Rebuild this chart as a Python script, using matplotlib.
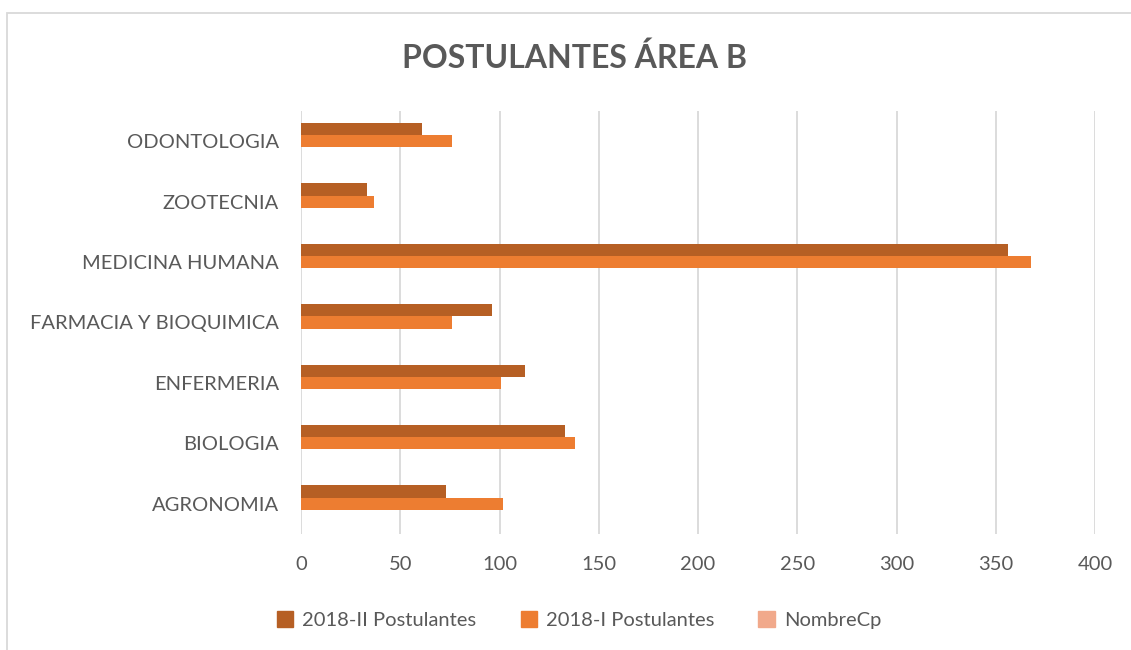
import matplotlib
matplotlib.use("Agg")
import matplotlib.pyplot as plt
from matplotlib.patches import Patch, Rectangle
import numpy as np

categories = ["AGRONOMIA", "BIOLOGIA", "ENFERMERIA", "FARMACIA Y BIOQUIMICA",
              "MEDICINA HUMANA", "ZOOTECNIA", "ODONTOLOGIA"]
s2018_II = [73, 133, 113, 96, 356, 33, 61]
s2018_I = [102, 138, 101, 76, 368, 37, 76]
nombre_cp = [0, 0, 0, 0, 0, 0, 0]
series_names = ["2018-II Postulantes", "2018-I Postulantes", "NombreCp"]
xticks = [0, 50, 100, 150, 200, 250, 300, 350, 400]

c_II = "#B65F24"
c_I = "#ED7D31"
c_N = "#F1A98B"
gray = "#595959"
FONT = "Lato"

plt.rcParams['font.family'] = [FONT, 'DejaVu Sans']

fig = plt.figure(figsize=(11.31, 6.5), dpi=100)
ax = fig.add_axes([301/1131, 1-534/650, 794/1131, 423/650])

y = np.arange(len(categories))
h = 0.203
ax.barh(y + h, s2018_II, height=h, color=c_II, zorder=3)
ax.barh(y, s2018_I, height=h, color=c_I, zorder=3)
ax.barh(y - h, nombre_cp, height=h, color=c_N, zorder=3)

ax.set_xlim(0, 400)
ax.set_ylim(-0.5, len(categories) - 0.5)
ax.set_xticks(xticks)
ax.set_xticklabels([str(t) for t in xticks])
ax.set_yticks(y)
ax.set_yticklabels(categories)
ax.tick_params(axis='both', length=0, colors=gray, labelsize=14.5)
ax.tick_params(axis='x', pad=16)
ax.tick_params(axis='y', pad=16)
ax.grid(axis='x', color="#D9D9D9", linewidth=1.3, zorder=0)
for s in ax.spines.values():
    s.set_visible(False)

fig.text(575/1131, 1-58/650, "POSTULANTES ÁREA B", ha='center', va='center',
         fontsize=23, fontweight='bold', color=gray)

handles = [Patch(color=c) for c in (c_II, c_I, c_N)]
fig.legend(handles, series_names, loc='center', bbox_to_anchor=(579/1131, 1-620/650),
           ncol=3, frameon=False, fontsize=14.5, labelcolor=gray,
           handlelength=0.8, handleheight=0.8, handletextpad=0.45, columnspacing=2.2)

fig.patches.append(Rectangle((7/1131, -0.1), 1.2, 1 - 13/650 + 0.1,
                             transform=fig.transFigure, fill=False,
                             edgecolor="#D9D9D9", linewidth=1.3))

fig.savefig("out.png", dpi=100, facecolor="white")
